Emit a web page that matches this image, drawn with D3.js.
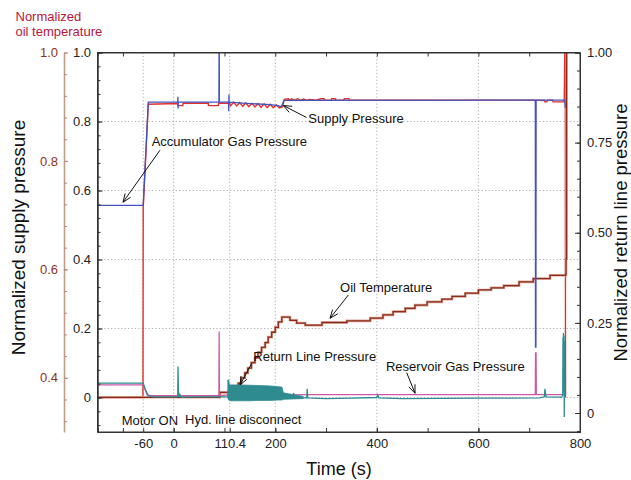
<!DOCTYPE html>
<html>
<head>
<meta charset="utf-8">
<script src="https://cdn.jsdelivr.net/npm/d3@7"></script>
<style>
  body { margin: 0; background: #fff; }
  svg { font-family: "Liberation Sans", Arial, Helvetica, sans-serif; }
</style>
</head>
<body>
<div id="chart"></div>
<script>
// axis ticks
const timeTicks = [-60, 0, 110.4, 200, 400, 600, 800];
const timeGrid = [-60, 0, 110.4, 200, 400, 600];
const supplyTicks = [0, 0.2, 0.4, 0.6, 0.8, 1.0];
const returnTicks = [0, 0.25, 0.5, 0.75, 1.0];
const oilTicks = [0.4, 0.6, 0.8, 1.0];

// [time s, normalized supply pressure]
const accumulatorGas = [
  [-150, 0.557], [-60, 0.557], [-50, 0.856], [8, 0.856], [8.3, 0.872], [8.6, 0.838], [9, 0.856],
  [89, 0.856], [89.3, 1.0], [89.7, 1.0], [90, 0.856],
  [108, 0.856], [108.4, 0.83], [108.8, 0.878], [109.2, 0.856],
  [150, 0.852], [190, 0.849], [205, 0.846], [212, 0.843], [217, 0.861],
  [712, 0.862], [712.4, 0.146], [713.2, 0.146], [713.6, 0.862],
  [770, 0.862], [771, 0.84]
];

const supplyPressure = [
  [-150, 0], [-60.5, 0], [-60, 0.55], [-50, 0.85], [8, 0.852], [8.5, 0.846], [18, 0.846], [18.5, 0.853],
  [68, 0.853], [68.5, 0.846], [88, 0.846], [88.5, 0.853], [110, 0.853],
  [112, 0.846], [118, 0.856], [124, 0.845], [130, 0.855], [136, 0.844], [142, 0.854], [148, 0.843],
  [154, 0.853], [160, 0.842], [166, 0.852], [172, 0.841], [178, 0.851], [184, 0.840], [190, 0.850],
  [196, 0.840], [202, 0.848], [208, 0.839], [214, 0.842], [218, 0.864], [226, 0.866], [228, 0.861],
  [232, 0.866], [238, 0.861], [244, 0.866], [250, 0.861], [256, 0.865], [262, 0.861], [268, 0.864],
  [280, 0.862], [290, 0.866], [296, 0.866], [297, 0.862], [310, 0.862], [311, 0.866], [318, 0.866],
  [319, 0.862], [335, 0.862], [336, 0.866], [345, 0.866], [346, 0.862], [712, 0.862], [730, 0.861],
  [731, 0.857], [735, 0.857], [736, 0.862], [746, 0.862], [747, 0.857], [768, 0.857], [769, 0.862],
  [770, 1.0], [771, 1.0], [771.5, 0.0]
];

// [time s, normalized oil temperature]
const oilTemperature = [
  [-150, 0.364], [91, 0.373], [121, 0.381], [127, 0.390], [133, 0.400], [140, 0.409], [146, 0.418],
  [153, 0.428], [160, 0.437], [166, 0.447], [173, 0.456], [180, 0.465], [186, 0.475], [193, 0.484],
  [200, 0.493], [206, 0.503], [213, 0.512], [229, 0.506], [242, 0.501], [259, 0.497], [292, 0.502],
  [341, 0.505], [387, 0.510], [412, 0.516], [432, 0.522], [456, 0.528], [475, 0.534], [499, 0.540],
  [528, 0.545], [548, 0.550], [574, 0.556], [600, 0.562], [625, 0.566], [650, 0.570], [680, 0.577],
  [708, 0.583], [741, 0.589], [772, 0.592], [772.5, 0.62], [773.5, 1.0]
];

// [time s, normalized return line pressure]
const returnLine = [
  [-150, 0.083], [-60, 0.083], [-55, 0.062], [-50, 0.048], [-40, 0.045], [8, 0.045], [8.5, 0.129],
  [9.5, 0.045], [12, 0.052], [14, 0.044], [60, 0.045], [107, 0.045], [108, 0.092], [110, 0.06],
  [160, 0.055], [213, 0.05], [235, 0.046], [236, 0.055], [237, 0.042], [262, 0.042], [263, 0.067],
  [264, 0.042], [300, 0.040], [350, 0.041], [400, 0.043], [402, 0.050], [404, 0.042], [450, 0.040],
  [600, 0.041], [720, 0.042], [730, 0.045], [731, 0.067], [733, 0.045], [764, 0.044], [766, 0.05],
  [766.5, 0.21], [767, 0.06], [767.5, 0.222], [768, 0.07], [768.5, 0.215], [769, -0.011],
  [769.5, 0.2], [770, 0.06], [772, 0.05]
];
const bandTimes = [107, 108, 112, 130, 150, 170, 190, 205, 213, 216, 235, 255];
const bandTop = [0.092, 0.079, 0.078, 0.078, 0.077, 0.076, 0.075, 0.073, 0.072, 0.056, 0.051, 0.046];
const bandBottom = [0.040, 0.036, 0.034, 0.034, 0.034, 0.035, 0.035, 0.036, 0.036, 0.038, 0.039, 0.040];

const reservoirGas = [
  [-150, 0.078], [-60, 0.078], [-52, 0.05], [-45, 0.048], [89, 0.048], [89.5, 0.226], [90, 0.048],
  [107, 0.050], [300, 0.051], [712, 0.051], [712.5, 0.167], [713.5, 0.167], [714, 0.051], [772, 0.051]
];

const width = 631, height = 480;
const margin = { top: 52.5, right: 51, bottom: 48, left: 97.5 };
const x0 = margin.left, x1 = width - margin.right;
const yTop = margin.top, yBot = height - margin.bottom;

const x = d3.scaleLinear().domain([-150, 800]).range([x0, x1]);
const ySupply = d3.scaleLinear().domain([-0.1, 1.0]).range([yBot, yTop]);
const yReturn = d3.scaleLinear().domain([-0.0527, 1.0]).range([yBot, yTop]);
const yOil = d3.scaleLinear().domain([0.3, 1.0]).range([yBot, yTop]);

const svg = d3.select("#chart").append("svg").attr("width", width).attr("height", height);
svg.append("rect").attr("width", width).attr("height", height).attr("fill", "#fff");

svg.append("clipPath").attr("id", "plot").append("rect")
  .attr("x", x0).attr("y", yTop).attr("width", x1 - x0).attr("height", yBot - yTop);

// grid
const grid = svg.append("g").attr("stroke", "#9a9a9a").attr("stroke-width", 0.8).attr("stroke-dasharray", "1.2,2.2");
grid.selectAll(".gx").data(timeGrid).join("line")
  .attr("x1", (d) => x(d)).attr("x2", (d) => x(d)).attr("y1", yTop).attr("y2", yBot);
grid.selectAll(".gy").data(supplyTicks.filter((d) => d < 1)).join("line")
  .attr("x1", x0).attr("x2", x1).attr("y1", (d) => ySupply(d)).attr("y2", (d) => ySupply(d));

// series
const plot = svg.append("g").attr("clip-path", "url(#plot)").attr("fill", "none");
const lineS = d3.line().x((d) => x(d[0])).y((d) => ySupply(d[1]));
const lineR = d3.line().x((d) => x(d[0])).y((d) => yReturn(d[1]));
const lineO = d3.line().x((d) => x(d[0])).y((d) => yOil(d[1])).curve(d3.curveStepAfter);

plot.append("path").datum(supplyPressure).attr("d", lineS).attr("stroke", "#e2302a").attr("stroke-width", 1.4);
plot.append("path").datum(oilTemperature).attr("d", lineO).attr("stroke", "#dba595").attr("stroke-width", 2.6);
plot.append("path").datum(oilTemperature).attr("d", lineO).attr("stroke", "#8c2a1c").attr("stroke-width", 1.3);
plot.append("path").datum(reservoirGas).attr("d", lineR).attr("stroke", "#cc5aa8").attr("stroke-width", 1.3);

const band = d3.area()
  .x((d, i) => x(bandTimes[i]))
  .y0((d, i) => yReturn(bandBottom[i]))
  .y1((d, i) => yReturn(bandTop[i]));
plot.append("path").datum(bandTimes).attr("d", band).attr("fill", "#2e8b8f").attr("stroke", "#2e8b8f").attr("stroke-width", 0.8);
plot.append("path").datum(returnLine).attr("d", lineR).attr("stroke", "#2e8b8f").attr("stroke-width", 1.3);
plot.append("path").datum(accumulatorGas).attr("d", lineS).attr("stroke", "#4353bd").attr("stroke-width", 1.3);

// frame
svg.append("rect").attr("x", x0).attr("y", yTop).attr("width", x1 - x0).attr("height", yBot - yTop)
  .attr("fill", "none").attr("stroke", "#333").attr("stroke-width", 1);

const styleAxis = (g) => {
  g.select(".domain").attr("stroke", "#333");
  g.selectAll(".tick line").attr("stroke", "#333");
  g.selectAll("text").attr("fill", "#222").style("font-size", "13px");
};

// left supply axis
svg.append("g").attr("transform", `translate(${x0},0)`)
  .call(d3.axisLeft(ySupply).tickValues(d3.range(-0.08, 1.001, 0.04)).tickSize(-3).tickFormat(""))
  .call(styleAxis);
svg.append("g").attr("transform", `translate(${x0},0)`)
  .call(d3.axisLeft(ySupply).tickValues(supplyTicks).tickSize(-5).tickPadding(6.5)
    .tickFormat((d) => (d === 0 ? "0" : d3.format(".1f")(d))))
  .call(styleAxis);

// right return line axis
svg.append("g").attr("transform", `translate(${x1},0)`)
  .call(d3.axisRight(yReturn).tickValues(d3.range(-0.05, 1.001, 0.05)).tickSize(-3).tickFormat(""))
  .call(styleAxis);
svg.append("g").attr("transform", `translate(${x1},0)`)
  .call(d3.axisRight(yReturn).tickValues(returnTicks).tickSize(-5).tickPadding(7)
    .tickFormat((d) => (d === 0 ? "0" : d3.format(".2f")(d))))
  .call(styleAxis);

// bottom / top time axis
svg.append("g").attr("transform", `translate(0,${yBot})`)
  .call(d3.axisBottom(x).tickValues(d3.range(-100, 800, 100)).tickSize(-4).tickFormat(""))
  .call(styleAxis);
svg.append("g").attr("transform", `translate(0,${yBot})`)
  .call(d3.axisBottom(x).tickValues(timeTicks).tickSize(-4).tickPadding(6.5)
    .tickFormat((d) => String(d)))
  .call(styleAxis);
svg.append("g").attr("transform", `translate(0,${yTop})`)
  .call(d3.axisTop(x).tickValues(d3.range(-100, 800, 100)).tickSize(-4).tickFormat(""))
  .call(styleAxis);

// oil temperature axis
const oilAxis = svg.append("g").attr("transform", "translate(64,0)")
  .call(d3.axisLeft(yOil).tickValues(d3.range(0.32, 1.001, 0.04)).tickSize(-3).tickSizeOuter(0).tickFormat(""));
svg.append("g").attr("transform", "translate(64,0)")
  .call(d3.axisLeft(yOil).tickValues(oilTicks).tickSize(-4).tickSizeOuter(0).tickPadding(6)
    .tickFormat(d3.format(".1f")))
  .call((g) => g.select(".domain").remove())
  .call((g) => g.selectAll(".tick line").attr("stroke", "#b88a78"))
  .call((g) => g.selectAll("text").attr("fill", "#8e3322").style("font-size", "13px"));
oilAxis.select(".domain").attr("stroke", "#c49a8a").attr("stroke-width", 1.6);
oilAxis.selectAll(".tick line").attr("stroke", "#b88a78");

// titles
svg.append("text").attr("transform", "translate(24.5,237.5) rotate(-90)")
  .attr("text-anchor", "middle").style("font-size", "19px").attr("fill", "#111").text("Normalized supply pressure");
svg.append("text").attr("transform", "translate(627,232.5) rotate(-90)")
  .attr("text-anchor", "middle").style("font-size", "18.5px").attr("fill", "#111").text("Normalized return line pressure");
svg.append("text").attr("x", 339).attr("y", 475).attr("text-anchor", "middle")
  .style("font-size", "18px").attr("fill", "#111").text("Time (s)");
svg.append("text").attr("x", 15.5).attr("y", 21).style("font-size", "13px").attr("fill", "#b8163c").text("Normalized");
svg.append("text").attr("x", 15.5).attr("y", 36).style("font-size", "13px").attr("fill", "#b8163c").text("oil temperature");

// annotations, in supply-axis units: text start, arrow start, arrow tip
const notes = [
  { label: "Accumulator Gas Pressure", t: -43.3, v: 0.7435, from: [-26.9, 0.717], to: [-99.8, 0.566] },
  { label: "Supply Pressure", t: 265.1, v: 0.8087, from: [261.5, 0.8116], to: [215.8, 0.8464] },
  { label: "Oil Temperature", t: 327.5, v: 0.318, from: [343.8, 0.297], to: [307.8, 0.2296] },
  { label: "Return Line Pressure", t: 156.8, v: 0.118, from: [153.6, 0.0991], to: [130.6, 0.0362] },
  { label: "Reservoir Gas Pressure", t: 418, v: 0.0893, from: [458.8, 0.0719], to: [475.2, 0.0122] },
  { label: "Motor ON", t: -102.4, v: -0.067 },
  { label: "Hyd. line disconnect", t: 22.3, v: -0.065 }
];

const ann = svg.append("g");
notes.forEach((n) => {
  ann.append("text").attr("x", x(n.t)).attr("y", ySupply(n.v)).attr("dy", "0.35em")
    .style("font-size", "13px").attr("fill", "#111").text(n.label);
  if (!n.from) return;
  const ax = x(n.from[0]), ay = ySupply(n.from[1]);
  const bx = x(n.to[0]), by = ySupply(n.to[1]);
  const a = Math.atan2(by - ay, bx - ax);
  const g = ann.append("g").attr("stroke", "#111").attr("stroke-width", 1);
  g.append("line").attr("x1", ax).attr("y1", ay).attr("x2", bx).attr("y2", by);
  [-0.38, 0.38].forEach((s) => {
    g.append("line").attr("x1", bx).attr("y1", by)
      .attr("x2", bx - 9 * Math.cos(a + s)).attr("y2", by - 9 * Math.sin(a + s));
  });
});
</script>
</body>
</html>
